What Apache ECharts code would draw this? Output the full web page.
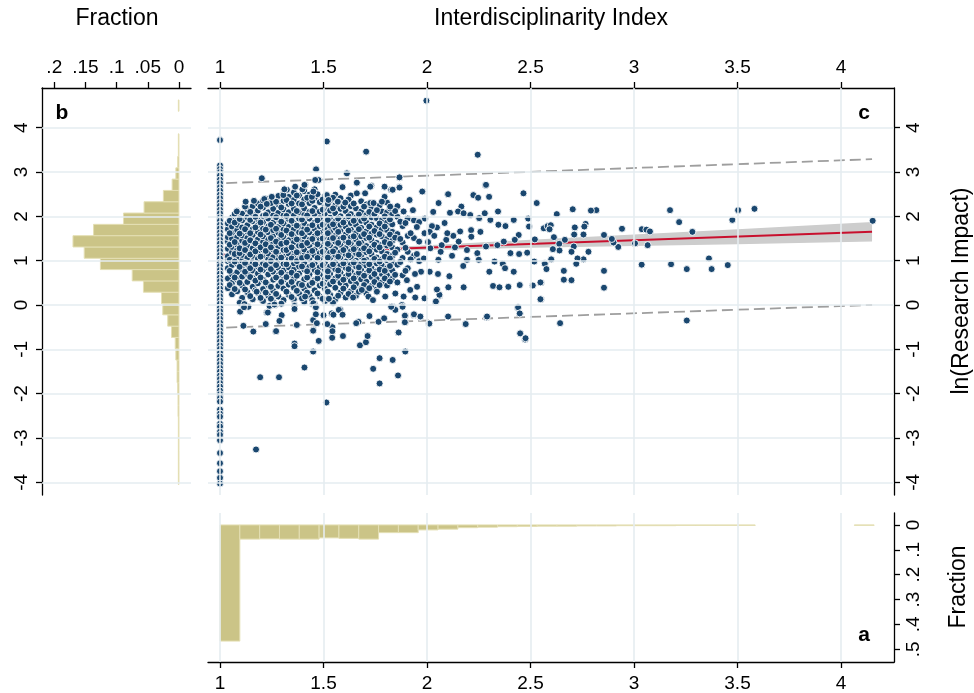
<!DOCTYPE html>
<html><head><meta charset="utf-8">
<script src="https://cdn.jsdelivr.net/npm/echarts@6/dist/echarts.min.js"></script>
<style>html,body{margin:0;padding:0;background:#fff}#c{width:974px;height:693px}</style>
</head><body><div id="c"></div>
<script>
const FONT = '"Liberation Sans", Arial, Helvetica, sans-serif';

// ---- tick labels ----
const xTicks = [1, 1.5, 2, 2.5, 3, 3.5, 4];
const yTicks = [-4, -3, -2, -1, 0, 1, 2, 3, 4];
const fracTicksLeft = [0, 0.05, 0.1, 0.15, 0.2];
const fracTicksBottom = [0, 0.1, 0.2, 0.3, 0.4, 0.5];

// ---- panel b: histogram of ln(Research Impact) (fraction per bin) ----
const yBinStart = -4.05, yBinWidth = 0.2552;
const yHistFrac = [0.001,0.001,0.001,0.001,0.001,0.001,0.0015,0.0015,0.002,0.003,0.003,0.005,0.006,0.012,0.018,0.026,0.028,0.057,0.075,0.126,0.152,0.170,0.137,0.089,0.056,0.025,0.011,0.005,0.002,0.001,0.001,0,0,0.001];

// ---- panel a: histogram of Interdisciplinarity Index ----
const xBinStart = 1.0, xBinWidth = 0.09576;
const xHistFrac = [0.467,0.057,0.056,0.057,0.057,0.052,0.054,0.057,0.031,0.031,0.020,0.017,0.011,0.009,0.007,0.006,0.005,0.005,0.004,0.004,0.003,0.003,0.003,0.002,0.002,0.002,0.002,0,0,0,0,0,0.0015];

// ---- panel c: scatter ----
// points at index = 1 (y values)
const col1Y = [3.72,3.15,3.07,3.00,2.92,2.83,2.75,2.66,2.58,2.49,2.41,2.32,2.24,2.15,2.07,1.98,1.90,1.81,1.73,1.64,1.56,1.47,1.39,1.30,1.22,1.13,1.05,0.96,0.88,0.79,0.71,0.62,0.54,0.45,0.37,0.28,0.20,0.11,0.03,-0.06,-0.14,-0.23,-0.31,-0.40,-0.48,-0.57,-0.65,-0.74,-0.82,-0.91,-0.99,-1.08,-1.16,-1.25,-1.33,-1.42,-1.50,-1.59,-1.67,-1.76,-1.84,-1.93,-2.01,-2.10,-2.18,-2.36,-2.45,-2.52,-2.68,-2.74,-2.86,-2.93,-3.05,-3.34,-3.57,-3.75,-3.90,-4.03];
// dense cloud, read column by column: [x, y1, y2, ...]
const cloudCols = [
 [1.038,0.38,0.60,0.83,0.99,1.10,1.27,1.43,1.53,1.71,1.84],
 [1.058,0.24,0.50,0.69,0.90,1.05,1.19,1.31,1.50,1.63,1.77,1.97],
 [1.083,0.31,0.57,0.74,0.93,1.07,1.24,1.36,1.53,1.69,1.81,2.00,2.12],
 [1.107,0.16,0.44,0.64,0.81,1.00,1.13,1.30,1.45,1.57,1.75,1.91,2.06],
 [1.132,0.29,0.52,0.70,0.91,1.06,1.21,1.34,1.51,1.66,1.80,1.98,2.16],
 [1.158,0.13,0.41,0.61,0.78,0.97,1.11,1.28,1.43,1.58,1.71,1.89,2.04,2.23],
 [1.183,0.27,0.49,0.71,0.87,1.04,1.18,1.35,1.48,1.65,1.80,1.94,2.13,2.29],
 [1.208,0.09,0.36,0.57,0.79,0.94,1.11,1.25,1.42,1.55,1.72,1.87,2.01,2.20,2.35],
 [1.233,0.21,0.45,0.69,0.85,1.03,1.16,1.34,1.47,1.64,1.77,1.95,2.09,2.28],
 [1.257,0.06,0.32,0.57,0.75,0.94,1.08,1.25,1.39,1.56,1.69,1.86,2.02,2.17,2.39],
 [1.282,0.19,0.43,0.67,0.84,1.02,1.15,1.32,1.46,1.63,1.76,1.94,2.08,2.27,2.46],
 [1.307,0.11,0.37,0.57,0.78,0.93,1.10,1.24,1.40,1.53,1.70,1.84,2.02,2.16,2.35,2.53],
 [1.332,0.23,0.46,0.69,0.85,1.03,1.16,1.33,1.46,1.63,1.76,1.94,2.09,2.28,2.44],
 [1.357,0.13,0.39,0.59,0.80,0.94,1.11,1.24,1.41,1.54,1.71,1.84,2.02,2.17,2.37,2.54],
 [1.382,0.26,0.48,0.71,0.87,1.04,1.17,1.34,1.47,1.64,1.77,1.95,2.09,2.29,2.47],
 [1.407,0.07,0.37,0.58,0.80,0.95,1.12,1.25,1.42,1.55,1.72,1.85,2.03,2.18,2.38,2.57],
 [1.432,0.21,0.45,0.69,0.86,1.04,1.17,1.34,1.47,1.64,1.77,1.95,2.10,2.30,2.49],
 [1.457,0.03,0.33,0.56,0.79,0.94,1.12,1.25,1.42,1.55,1.72,1.86,2.04,2.19,2.41,2.61],
 [1.482,0.19,0.44,0.68,0.85,1.04,1.17,1.34,1.47,1.64,1.78,1.96,2.11,2.32],
 [1.507,0.09,0.37,0.58,0.80,0.95,1.12,1.25,1.42,1.55,1.72,1.86,2.05,2.21,2.45],
 [1.532,0.23,0.47,0.70,0.87,1.05,1.18,1.35,1.48,1.65,1.79,1.97,2.13,2.36],
 [1.557,0.13,0.39,0.60,0.81,0.96,1.13,1.26,1.43,1.56,1.74,1.88,2.07,2.25,2.49],
 [1.582,0.28,0.50,0.73,0.89,1.06,1.19,1.36,1.49,1.67,1.81,2.00,2.17,2.41],
 [1.607,0.17,0.44,0.64,0.84,0.98,1.15,1.28,1.45,1.59,1.77,1.92,2.12,2.31],
 [1.632,0.31,0.54,0.76,0.91,1.08,1.21,1.38,1.52,1.70,1.85,2.05,2.23,2.47],
 [1.657,0.21,0.48,0.67,0.87,1.00,1.17,1.30,1.48,1.62,1.81,1.97,2.18],
 [1.682,0.36,0.58,0.79,0.93,1.10,1.23,1.41,1.55,1.74,1.90,2.11,2.34],
 [1.707,0.27,0.53,0.71,0.89,1.02,1.19,1.33,1.51,1.66,1.86,2.03,2.27],
 [1.732,0.43,0.63,0.83,0.97,1.14,1.28,1.46,1.61,1.81,1.98,2.21],
 [1.757,0.35,0.59,0.76,0.94,1.07,1.25,1.40,1.59,1.75,1.96,2.15],
 [1.782,0.51,0.70,0.89,1.03,1.21,1.36,1.55,1.71,1.92,2.11],
 [1.807,0.44,0.67,0.83,1.01,1.15,1.34,1.49,1.69,1.86,2.09,2.31],
 [1.832,0.59,0.78,0.97,1.11,1.30,1.45,1.65,1.82,2.05],
 [1.857,0.51,0.91,1.25,1.60,1.99,2.23],
 [1.882,0.67,1.06,1.41,1.78],
 [1.907,0.83,1.20,1.56,1.95],
 [1.937,1.11,1.51,1.91],
 [1.962,0.99,1.43,1.87]
];
// second, irregular layer of the dense cloud: [x, y1, y2, ...]
const cloudCols2 = [
 [1.047,0.45,0.77,1.02,1.36,1.62,1.90],
 [1.071,0.36,0.62,0.98,1.15,1.42,1.86,2.05],
 [1.095,0.05,0.50,0.86,1.17,1.28,1.61,1.94],
 [1.121,0.35,0.75,0.95,1.24,1.40,1.71,2.22],
 [1.146,0.20,0.63,0.83,1.14,1.46,1.62,1.92,2.10],
 [1.171,0.33,0.55,0.92,1.21,1.39,1.75,1.99],
 [1.196,0.16,0.62,0.80,1.09,1.30,1.59,1.86,2.22],
 [1.221,0.28,0.51,0.90,1.22,1.37,1.70,2.03,2.40],
 [1.246,0.14,0.41,0.81,0.99,1.30,1.51,1.81,2.30],
 [1.271,0.25,0.62,0.90,1.20,1.43,1.72,1.98,2.33],
 [1.296,0.03,0.52,0.73,1.07,1.38,1.58,1.88,2.20],
 [1.321,0.30,0.63,0.92,1.24,1.41,1.68,2.01,2.37],
 [1.346,0.18,0.52,0.73,1.05,1.30,1.60,1.90,2.29],
 [1.371,0.32,0.66,0.99,1.19,1.48,1.79,2.12,2.47],
 [1.396,0.15,0.45,0.87,1.06,1.34,1.62,1.93,2.27],
 [1.421,0.28,0.62,0.76,1.09,1.40,1.70,2.02,2.42],
 [1.446,0.11,0.50,0.90,1.22,1.49,1.80,2.12,2.35],
 [1.471,0.26,0.60,0.74,1.06,1.37,1.62,1.91,2.50],
 [1.496,0.14,0.48,0.90,1.20,1.50,1.81,2.15,2.38],
 [1.521,0.30,0.64,0.76,1.07,1.38,1.62,1.92,2.28],
 [1.546,0.05,0.53,0.92,1.21,1.51,1.82,2.18,2.42],
 [1.571,0.21,0.66,0.78,1.09,1.40,1.65,1.95,2.33],
 [1.596,0.37,0.57,0.94,1.24,1.52,1.86,2.22],
 [1.621,0.25,0.70,0.81,1.12,1.41,1.68,2.00,2.38],
 [1.646,0.40,0.60,0.96,1.26,1.55,1.90,2.29],
 [1.671,0.30,0.73,0.85,1.14,1.39,1.71,2.04],
 [1.696,0.45,0.66,1.00,1.28,1.60,1.95,2.22],
 [1.721,0.38,0.78,0.92,1.21,1.52,1.77,2.10],
 [1.746,0.52,0.70,1.04,1.36,1.67,2.05],
 [1.771,0.45,0.80,0.98,1.30,1.60,1.84,2.25],
 [1.796,0.60,0.77,1.09,1.42,1.77,2.00],
 [1.821,0.53,0.88,1.05,1.38,1.59,1.93,2.18],
 [1.846,0.68,1.18,1.52,2.12],
 [1.871,0.97,1.49,1.88],
 [1.896,0.77,1.29,1.85],
 [1.921,1.03,1.62],
 [1.951,1.15,1.76]
];
// scattered points above the cloud
const upperPts = [[1.202,2.86],[1.464,3.06],[1.516,3.69],[1.613,2.97],[1.706,3.46],[1.867,2.87],[1.979,2.56],[1.997,4.61],[2.245,3.39],[2.282,2.71],[2.102,2.50],
 [1.411,2.72],[1.363,2.67],[1.323,2.60],[1.306,2.48],[1.398,2.61],[1.444,2.44],[1.451,2.56],[1.476,2.82],[1.516,2.48],[1.524,2.37],[1.569,2.33],[1.605,2.31],[1.661,2.52],[1.701,2.52],[1.726,2.30],
 [1.124,2.33],[1.164,2.35],[1.214,2.39],[1.226,2.28],[1.250,2.44],[1.081,2.11],[1.592,2.66],[1.661,2.76],[1.731,2.69],[1.795,2.67],[1.827,2.60],[1.866,2.66],[1.795,2.44],
 [1.460,2.82],[1.408,2.71],[1.311,2.61],[1.742,2.30],[1.782,2.33],[1.822,2.22],[1.916,2.37],[1.932,2.14],[1.887,2.11],[1.758,2.14]];
// scattered points below the cloud
const lowerPts = [[1.137,-0.04],[1.097,-0.15],[1.118,0.02],[1.177,0.30],[1.226,-0.17],[1.266,0.0],[1.298,-0.23],[1.360,0.0],[1.411,0.19],[1.447,0.02],[1.451,-0.56],[1.500,-0.23],[1.540,-0.19],[1.527,0.15],[1.581,-0.11],[1.669,-0.38],[1.714,-0.69],[1.717,0.19],[1.685,0.34],[1.113,-0.47],[1.161,-0.60],[1.269,-0.60],
 [1.835,-0.04],[1.847,-0.11],[1.879,0.0],[1.887,0.19],[1.847,0.26],[1.758,0.30],[1.798,0.19],[1.739,0.11],[1.919,0.34],[1.903,0.56],[1.952,0.41],
 [1.194,-1.63],[1.285,-1.63],[1.408,-1.41],[1.174,-3.26],[1.514,-2.20],[1.740,-1.44],[1.771,-1.20],[1.834,-1.24],[1.860,-1.59],[1.771,-1.77],[1.895,-1.05],[1.450,-1.05],[1.360,-0.87],[1.360,-0.93],[1.477,-0.81],[1.543,-0.50],[1.543,-0.59],[1.542,-0.74],[1.594,-0.70],[1.676,-0.91],[1.705,-0.84],[1.713,-0.70],[1.861,-0.62],
 [1.271,-0.59],[1.221,-0.43],[1.371,-0.45],[1.450,-0.58],[1.450,-0.34],[1.468,-0.41],[1.518,-0.43],[1.658,-0.41],[1.766,-0.38],[1.793,-0.30],[1.895,-0.39],[2.010,-0.43],[2.185,-0.43],[2.451,-0.65],[2.474,-0.78],
 [1.116,-0.05],[1.231,-0.17],[1.239,-0.02],[1.263,0.01],[1.287,-0.36],[1.360,-0.02],[1.360,-0.09],[1.451,0.04],[1.463,-0.05],[1.463,-0.21],[1.526,0.14],[1.548,-0.22],[1.574,-0.11],[1.592,-0.22],[1.643,0.17],[1.722,-0.25],[1.827,-0.04],[1.882,-0.04],[1.895,-0.23],[1.937,-0.23],[1.968,-0.27],[2.042,0.07],[2.061,0.21],[2.288,-0.28],[2.438,-0.06],[2.448,-0.19]];
// points with index between about 1.9 and 2.6
const midPts = [[1.867,2.88],[2.285,2.71],[2.466,2.52],[2.530,2.30],[2.102,2.50],[2.224,2.48],[2.247,2.42],[2.300,2.44],[1.977,2.56],[1.867,2.65],[1.795,2.67],[1.834,2.60],[1.726,2.67],
 [2.056,2.30],[2.166,2.22],[2.111,2.08],[2.150,2.11],[2.177,2.07],[2.209,2.03],[2.279,2.07],[2.343,2.11],[2.252,1.96],[2.306,1.92],[2.345,1.81],[2.379,1.78],[2.419,1.92],[2.489,1.95],[2.493,1.77],[2.564,1.73],[2.583,1.78],
 [2.443,1.58],[2.424,1.47],[2.521,1.48],[2.371,1.43],[2.340,1.35],[2.285,1.32],[2.258,1.65],[2.213,1.69],[2.193,1.24],[2.243,1.17],[2.214,1.54],[2.153,1.43],[2.127,1.56],[2.093,1.47],[2.071,1.35],[2.098,1.62],[2.048,1.75],[2.024,1.78],[2.013,1.65],[1.988,1.62],[2.016,1.28],[2.066,1.20],[2.121,1.11],
 [2.193,1.02],[2.250,1.02],[2.326,0.98],[2.366,0.93],[2.403,1.17],[2.445,1.15],[2.484,1.18],[2.518,0.98],[2.569,0.94],[2.419,0.75],[2.377,0.83],[2.301,0.75],[2.108,0.65],[2.053,0.70],[2.013,0.75],[1.971,0.75],[1.942,0.70],
 [2.319,0.43],[2.350,0.40],[2.393,0.41],[2.448,0.45],[2.511,0.44],[2.551,0.51],[2.551,0.13],[2.440,-0.05],[2.448,-0.19],[2.290,-0.26],[2.187,-0.43],[2.102,-0.26],[2.011,-0.42],[2.103,0.40],[2.177,0.40],[2.060,0.23],[2.043,0.08],[2.048,0.35],[1.988,0.15],[1.943,0.17],[1.893,-0.24],[1.937,-0.21],[1.968,-0.26],[1.893,-0.39],[1.863,-0.62],[2.450,-0.64],[2.476,-0.75],
 [1.985,1.05],[2.005,1.42],[2.035,1.56],[2.055,1.02],[2.085,1.85],[2.135,1.30],[2.160,1.66],[2.175,0.88],[1.990,1.95],[2.030,2.10]];
// points with index above about 2.5
const rightPts = [[4.153,1.90],[3.582,2.17],[3.503,2.14],[3.475,1.92],[3.282,1.65],[3.218,1.87],[3.174,2.14],[3.179,0.92],[3.255,0.81],[3.255,-0.35],[3.362,1.05],[3.375,0.81],[3.453,0.90],
 [3.037,0.91],[3.038,1.71],[3.060,1.70],[3.077,1.66],[3.066,1.35],[3.005,1.39],[2.942,1.72],[2.924,1.31],[2.901,1.41],[2.893,1.49],[2.855,1.58],[2.855,0.77],[2.855,0.39],[2.818,2.14],[2.792,2.13],[2.780,1.20],[2.766,1.83],[2.760,1.77],[2.756,1.59],[2.756,1.03],
 [2.727,1.05],[2.721,0.93],[2.714,1.75],[2.711,1.59],[2.709,1.32],[2.704,2.16],[2.698,1.20],[2.698,0.56],[2.661,0.77],[2.661,0.57],[2.666,1.47],[2.639,1.38],[2.640,1.23],[2.643,-0.41],[2.627,2.05],[2.613,1.53],[2.608,1.26],[2.598,1.80],[2.592,1.71],[2.600,1.03],[2.569,0.93],[2.577,0.81],[2.548,0.51],[2.548,0.13]];

// ---- fitted line, confidence band, prediction interval ----
const fitLine = [[1.0, 1.13], [4.15, 1.65]];
const bandX  = [1.0, 1.3, 1.6, 2.0, 2.5, 3.0, 3.5, 4.15];
const bandLo = [1.10, 1.16, 1.20, 1.24, 1.29, 1.33, 1.37, 1.43];
const bandHi = [1.16, 1.20, 1.26, 1.35, 1.47, 1.59, 1.71, 1.87];
const piUpper = [[1.03, 2.75], [4.15, 3.29]];
const piLower = [[1.03, -0.51], [4.15, 0.0]];

// ---------------------------------------------------------------
const colsToPts = cols => cols.flatMap(c => c.slice(1).map(y => [c[0], y]));
const scatterData = col1Y.map(y => [1, y])
  .concat(colsToPts(cloudCols), colsToPts(cloudCols2))
  .concat(upperPts, lowerPts, midPts, rightPts);

const HFILL = '#cbc487', HSTROKE = '#e4dfb4', GRID = '#e5edf0';
const fracFmt = v => (v === 0 ? '0' : String(v).replace(/^0\./, '.'));

function leftHistData() { return yHistFrac.map((f, i) => [yBinStart + i * yBinWidth, yBinStart + (i + 1) * yBinWidth, f]).filter(d => d[2] > 0); }
function botHistData() { return xHistFrac.map((f, i) => [xBinStart + i * xBinWidth, xBinStart + (i + 1) * xBinWidth, f]).filter(d => d[2] > 0); }

function rectFrom(a, b) {
  return { x: Math.min(a[0], b[0]), y: Math.min(a[1], b[1]), width: Math.abs(a[0] - b[0]), height: Math.abs(a[1] - b[1]) };
}

const axisLineS = { show: true, onZero: false, lineStyle: { color: '#000', width: 1.3 } };
const tickS = (vals) => ({ show: true, length: 6, customValues: vals, lineStyle: { color: '#000', width: 1.3 } });
const lblS = (vals, extra) => Object.assign({ customValues: vals, color: '#000', fontSize: 19, fontFamily: FONT }, extra);

const gridLineSeries = (xi, yi, anchor, lines) => ({
  type: 'scatter', xAxisIndex: xi, yAxisIndex: yi, data: [anchor], symbolSize: 0, silent: true, z: 1,
  markLine: { silent: true, symbol: ['none', 'none'], label: { show: false }, animation: false,
    lineStyle: { color: GRID, width: 1.6, type: 'solid' }, emphasis: { disabled: true }, data: lines }
});

const txt = (x, y, text, font, rot) => ({ type: 'text', x: x, y: y, rotation: rot || 0, silent: true,
  style: { text: text, font: font, fill: '#000', textAlign: 'center', textVerticalAlign: 'middle', align: 'center', verticalAlign: 'middle' } });

const option = {
  animation: false,
  backgroundColor: '#fff',
  grid: [
    { left: 208, top: 88, width: 686, height: 407 },
    { left: 42, top: 88, width: 149, height: 407 },
    { left: 208, top: 513, width: 686, height: 149 }
  ],
  xAxis: [
    { type: 'value', gridIndex: 0, position: 'top', min: 0.942, max: 4.256, axisLine: axisLineS, axisTick: tickS(xTicks), axisLabel: lblS(xTicks, { margin: 11 }), splitLine: { show: false } },
    { type: 'value', gridIndex: 1, position: 'top', inverse: true, min: -0.0193, max: 0.2197, axisLine: axisLineS, axisTick: tickS(fracTicksLeft), axisLabel: lblS(fracTicksLeft, { margin: 11, formatter: fracFmt }), splitLine: { show: false } },
    { type: 'value', gridIndex: 2, position: 'bottom', min: 0.942, max: 4.256, axisLine: axisLineS, axisTick: tickS(xTicks), axisLabel: lblS(xTicks, { margin: 12 }), splitLine: { show: false } }
  ],
  yAxis: [
    { type: 'value', gridIndex: 0, position: 'right', min: -4.287, max: 4.896, axisLine: axisLineS, axisTick: tickS(yTicks), axisLabel: lblS(yTicks, { rotate: 90, margin: 10 }), splitLine: { show: false } },
    { type: 'value', gridIndex: 1, position: 'left', min: -4.287, max: 4.896, axisLine: axisLineS, axisTick: tickS(yTicks), axisLabel: lblS(yTicks, { rotate: 90, margin: 11 }), splitLine: { show: false } },
    { type: 'value', gridIndex: 2, position: 'right', inverse: true, min: -0.048, max: 0.551, axisLine: axisLineS, axisTick: tickS(fracTicksBottom), axisLabel: lblS(fracTicksBottom, { rotate: 90, margin: 10, formatter: fracFmt }), splitLine: { show: false } }
  ],
  series: [
    gridLineSeries(0, 0, [1, 0], xTicks.map(v => ({ xAxis: v })).concat(yTicks.map(v => ({ yAxis: v })))),
    gridLineSeries(1, 1, [0, 0], yTicks.map(v => ({ yAxis: v }))),
    gridLineSeries(2, 2, [1, 0], xTicks.map(v => ({ xAxis: v }))),
    { type: 'custom', xAxisIndex: 1, yAxisIndex: 1, z: 2, silent: true, data: leftHistData(),
      renderItem: (params, api) => {
        const a = api.coord([0, api.value(1)]), b = api.coord([api.value(2), api.value(0)]);
        return { type: 'rect', shape: rectFrom(a, b), style: { fill: HFILL, stroke: HSTROKE, lineWidth: 1 } };
      } },
    { type: 'custom', xAxisIndex: 2, yAxisIndex: 2, z: 2, silent: true, data: botHistData(),
      renderItem: (params, api) => {
        const a = api.coord([api.value(0), 0]), b = api.coord([api.value(1), api.value(2)]);
        return { type: 'rect', shape: rectFrom(a, b), style: { fill: HFILL, stroke: HSTROKE, lineWidth: 1 } };
      } },
    { type: 'custom', xAxisIndex: 0, yAxisIndex: 0, z: 2, silent: true, data: [[bandX[0], bandLo[0]]],
      renderItem: (params, api) => {
        const up = bandX.map((x, i) => api.coord([x, bandHi[i]]));
        const lo = bandX.map((x, i) => api.coord([x, bandLo[i]])).reverse();
        return { type: 'polygon', shape: { points: up.concat(lo) }, style: { fill: '#cdcdcd' } };
      } },
    { type: 'line', xAxisIndex: 0, yAxisIndex: 0, z: 3, silent: true, data: piUpper, showSymbol: false, symbol: 'none', lineStyle: { color: '#9e9e9e', width: 1.8, type: [11, 5] } },
    { type: 'line', xAxisIndex: 0, yAxisIndex: 0, z: 3, silent: true, data: piLower, showSymbol: false, symbol: 'none', lineStyle: { color: '#9e9e9e', width: 1.8, type: [11, 5] } },
    { type: 'line', xAxisIndex: 0, yAxisIndex: 0, z: 3, silent: true, data: fitLine, showSymbol: false, symbol: 'none', lineStyle: { color: '#c8102e', width: 2 } },
    { type: 'scatter', xAxisIndex: 0, yAxisIndex: 0, z: 4, silent: true, data: scatterData, symbol: 'circle', symbolSize: 7,
      itemStyle: { color: '#1a476f', borderColor: '#ffffff', borderWidth: 0.9, opacity: 1 }, large: false }
  ],
  graphic: [
    txt(551, 19, 'Interdisciplinarity Index', '23px ' + FONT),
    txt(117, 19, 'Fraction', '23px ' + FONT),
    txt(962, 291, 'ln(Research Impact)', '23px ' + FONT, Math.PI / 2),
    txt(959, 587, 'Fraction', '23px ' + FONT, Math.PI / 2),
    txt(62, 113, 'b', 'bold 21px ' + FONT),
    txt(864, 113, 'c', 'bold 21px ' + FONT),
    txt(864, 635, 'a', 'bold 21px ' + FONT)
  ]
};

const chart = echarts.init(document.getElementById('c'), null, { renderer: 'canvas' });
chart.setOption(option);
</script>
</body></html>
